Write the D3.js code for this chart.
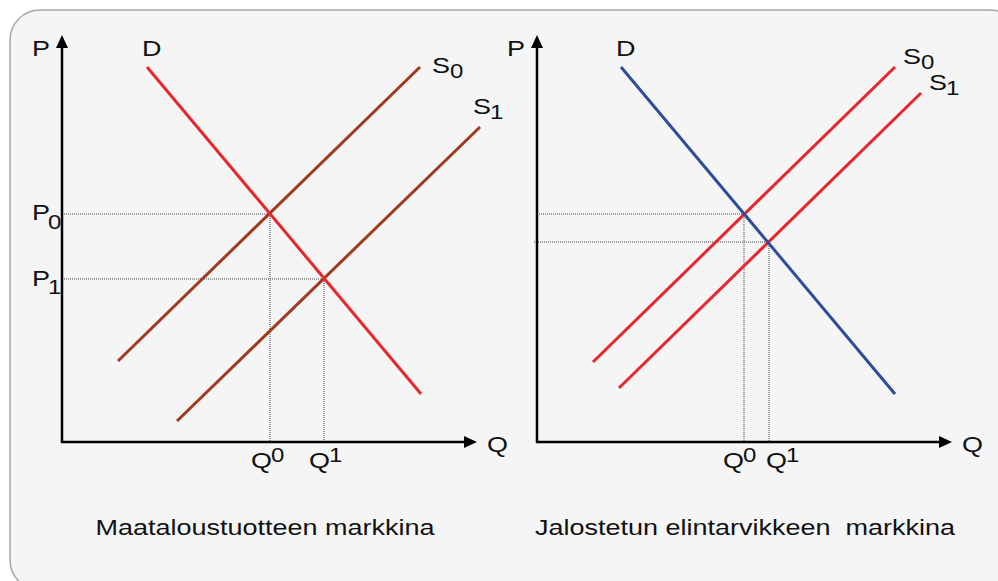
<!DOCTYPE html>
<html>
<head>
<meta charset="utf-8">
<script src="https://cdn.jsdelivr.net/npm/d3@7"></script>
<style>
  html, body { margin: 0; padding: 0; background: #ffffff; }
  svg { display: block; }
  text { font-family: "Liberation Sans", Arial, Helvetica, sans-serif; fill: #111; white-space: pre; }
</style>
</head>
<body>
<svg id="chart" width="998" height="581"></svg>
<script>
// ---------- data (abstract Q / P units, 0..100) ----------
const panelTitles = ["Maataloustuotteen markkina", "Jalostetun elintarvikkeen  markkina"];

// Left panel: agricultural product market
const leftDemand  = [[21.25, 93.75], [89.75, 12]];
const leftSupply0 = [[14, 20.25], [89.5, 93.75]];
const leftSupply1 = [[28.75, 5.25], [104.5, 78.75]];
const leftEquilibria = [[52, 57], [65.5, 40.75]];     // (Q0,P0), (Q1,P1)

// Right panel: processed food market
const rightDemand  = [[21, 93.75], [89.5, 12]];
const rightSupply0 = [[14, 20], [89.5, 93.75]];
const rightSupply1 = [[20.5, 13.5], [96, 87.25]];
const rightEquilibria = [[51.75, 57], [58, 50]];

const curveLabels = ["D", "S", "0", "1"];
const axisLabels = ["P", "Q"];

// ---------- drawing ----------
const svg = d3.select("#chart");

// panel frame
svg.append("rect")
  .attr("x", 10).attr("y", 10)
  .attr("width", 1010).attr("height", 580)
  .attr("rx", 30).attr("ry", 30)
  .attr("fill", "#f5f5f5")
  .attr("stroke", "#a6a6a6")
  .attr("stroke-width", 1.5);

const RED = "#e8262b", BROWN = "#a03a1f", BLUE = "#2f4b9b";
const SX = 1.2;
const FS = 22.5, FSUB = 20;

function txt(g, x, y, s, size) {
  g.append("text")
    .attr("transform", `translate(${x},${y}) scale(${SX},1)`)
    .attr("font-size", size)
    .text(s);
}

function drawPanel(opts) {
  const g = svg.append("g");
  const x = d3.scaleLinear().domain([0, 100]).range([opts.x0, opts.x0 + 400]);
  const y = d3.scaleLinear().domain([0, 100]).range([442, 42]);
  const line = d3.line().x(d => x(d[0])).y(d => y(d[1]));

  // dotted guide lines
  opts.eq.forEach((e, i) => {
    const hx0 = (opts.hStartOffset && opts.hStartOffset[i]) || 0;
    g.append("line")
      .attr("x1", x(0) + hx0).attr("x2", x(e[0]))
      .attr("y1", y(e[1])).attr("y2", y(e[1]))
      .attr("stroke", "#444").attr("stroke-width", 1)
      .attr("stroke-dasharray", "1,1");
    g.append("line")
      .attr("x1", x(e[0])).attr("x2", x(e[0]))
      .attr("y1", y(e[1])).attr("y2", y(0))
      .attr("stroke", "#444").attr("stroke-width", 1)
      .attr("stroke-dasharray", "1,1");
  });

  // curves
  [[opts.s0, opts.sColor], [opts.s1, opts.sColor], [opts.d, opts.dColor]].forEach(([pts, c]) => {
    g.append("path").attr("d", line(pts))
      .attr("fill", "none").attr("stroke", c).attr("stroke-width", 3);
  });

  // axes
  const ox = x(0), oy = y(0);
  const yTop = 35, xEnd = opts.x0 + 415;
  g.append("line").attr("x1", ox).attr("x2", ox).attr("y1", oy + 1).attr("y2", yTop + 10)
    .attr("stroke", "#000").attr("stroke-width", 2.5);
  g.append("path")
    .attr("d", `M${ox},${yTop} L${ox - 6},${yTop + 13} L${ox + 6},${yTop + 13} Z`)
    .attr("fill", "#000");
  g.append("line").attr("x1", ox - 1).attr("x2", xEnd - 10).attr("y1", oy).attr("y2", oy)
    .attr("stroke", "#000").attr("stroke-width", 2.5);
  g.append("path")
    .attr("d", `M${xEnd},${oy} L${xEnd - 13},${oy - 6} L${xEnd - 13},${oy + 6} Z`)
    .attr("fill", "#000");

  // axis labels
  txt(g, ox - 30, 56, axisLabels[0], FS);
  txt(g, xEnd + 10, 452, axisLabels[1], FS);

  // curve labels
  const d0 = opts.d[0];
  txt(g, x(d0[0]) - 5, y(d0[1]) - 11, curveLabels[0], FS);
  const s0e = opts.s0[1], s1e = opts.s1[1];
  txt(g, x(s0e[0]) + opts.s0Lab[0], y(s0e[1]) + opts.s0Lab[1], curveLabels[1], FS);
  txt(g, x(s0e[0]) + opts.s0Lab[0] + 18, y(s0e[1]) + opts.s0Lab[1] + 5, curveLabels[2], FSUB);
  txt(g, x(s1e[0]) + opts.s1Lab[0], y(s1e[1]) + opts.s1Lab[1], curveLabels[1], FS);
  txt(g, x(s1e[0]) + opts.s1Lab[0] + 17, y(s1e[1]) + opts.s1Lab[1] + 5, curveLabels[3], FSUB);

  // equilibrium labels
  opts.eq.forEach((e, i) => {
    const digit = curveLabels[2 + i];
    if (opts.pLabels) {
      txt(g, ox - 30, y(e[1]) + 6 + (i ? 1 : 0), axisLabels[0], FS);
      txt(g, ox - 14, y(e[1]) + 15, digit, FSUB);
    }
    const qx = x(e[0]) + opts.qLabOff[i];
    txt(g, qx, 468, axisLabels[1], FS);
    txt(g, qx + 20, 462, digit, FSUB);
  });

  // title
  g.append("text")
    .attr("transform", `translate(${opts.titleX},535) scale(${SX},1)`)
    .attr("font-size", FS)
    .attr("text-anchor", "middle")
    .text(opts.title);
}

drawPanel({
  x0: 62, d: leftDemand, s0: leftSupply0, s1: leftSupply1, eq: leftEquilibria,
  dColor: RED, sColor: BROWN, pLabels: true,
  s0Lab: [12, 6], s1Lab: [-7, -13], qLabOff: [-19, -15],
  titleX: 265, title: panelTitles[0]
});
drawPanel({
  x0: 537, d: rightDemand, s0: rightSupply0, s1: rightSupply1, eq: rightEquilibria,
  dColor: BLUE, sColor: RED, pLabels: false, hStartOffset: [0, -3],
  s0Lab: [8, -3], s1Lab: [8, -3], qLabOff: [-21, -3],
  titleX: 745, title: panelTitles[1]
});
</script>
</body>
</html>
